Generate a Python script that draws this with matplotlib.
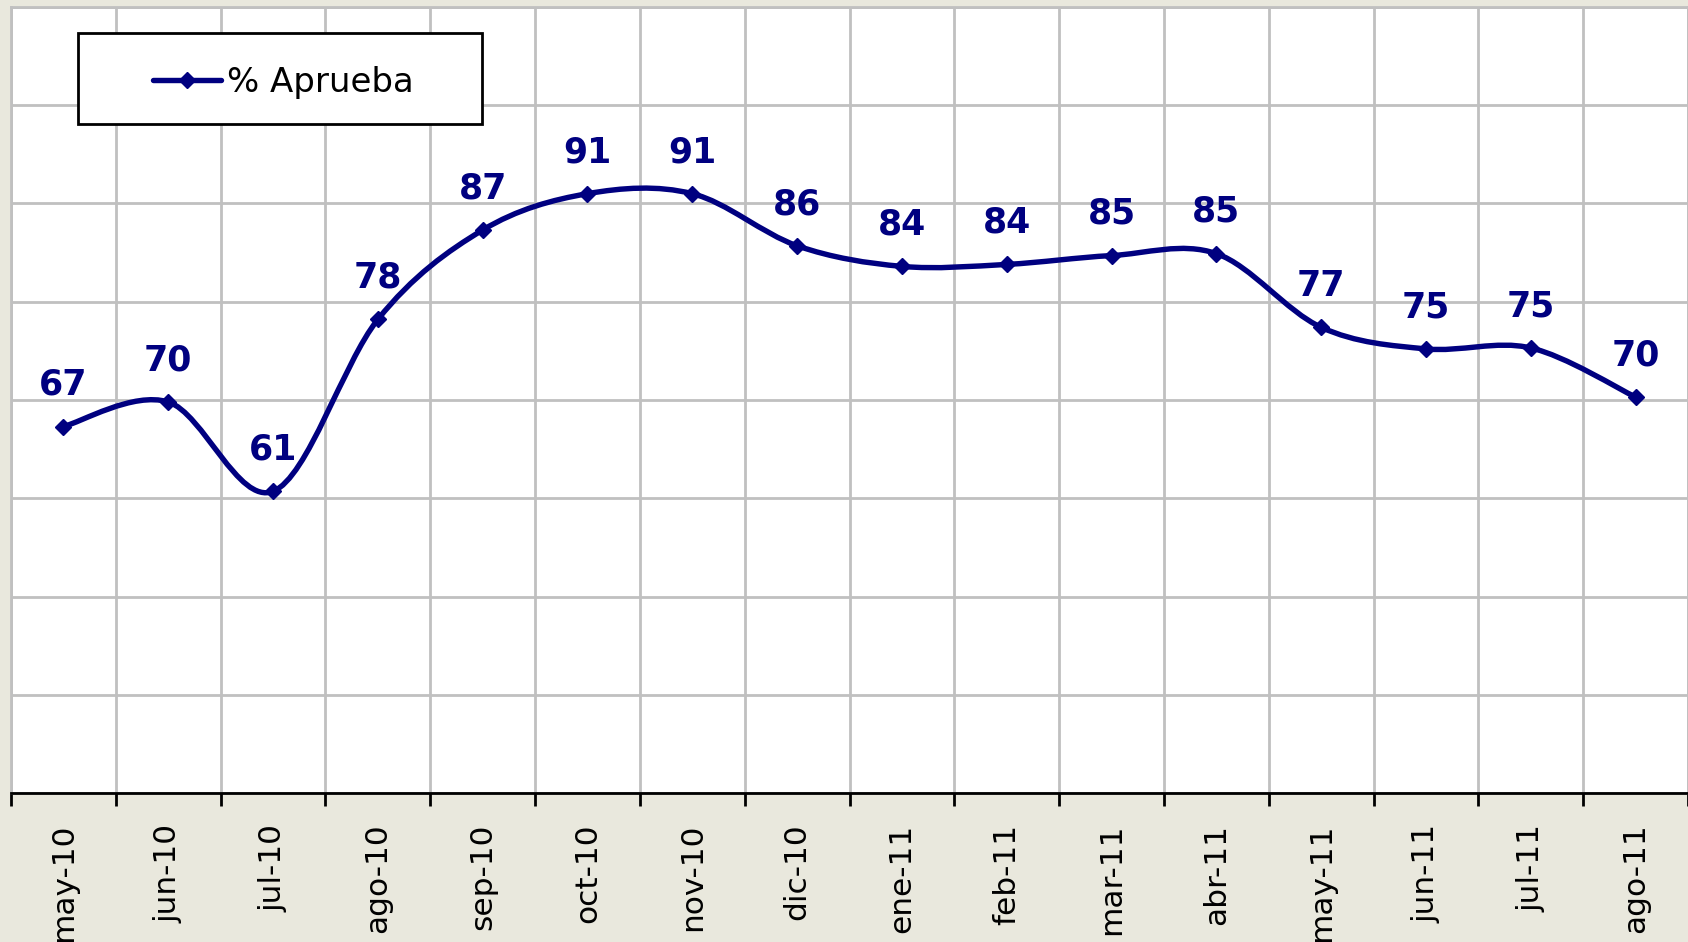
import matplotlib
matplotlib.use("Agg")
import matplotlib.pyplot as plt
from matplotlib.path import Path
from matplotlib.patches import PathPatch, Rectangle
from matplotlib.lines import Line2D

# Data
months = ["may-10", "jun-10", "jul-10", "ago-10", "sep-10", "oct-10", "nov-10", "dic-10",
          "ene-11", "feb-11", "mar-11", "abr-11", "may-11", "jun-11", "jul-11", "ago-11"]
aprueba = [67.3, 69.8, 60.7, 78.2, 87.3, 91.0, 91.0, 85.7,
           83.6, 83.8, 84.7, 84.9, 77.4, 75.2, 75.3, 70.3]

NAVY = "#000080"
BG = "#E9E8DD"
GRID = "#C0C0C0"

fig = plt.figure(figsize=(16.88, 9.42), dpi=100, facecolor=BG)
ax = fig.add_axes([11 / 1688, 149 / 942, 1 - 11 / 1688, 786 / 942])
ax.set_facecolor("white")

x = list(range(len(aprueba)))

# smoothed line (Excel style): cubic Bezier segments through the points
verts = [(x[0], aprueba[0])]
codes = [Path.MOVETO]
n = len(aprueba)
for i in range(n - 1):
    p0 = (x[max(i - 1, 0)], aprueba[max(i - 1, 0)])
    p1 = (x[i], aprueba[i])
    p2 = (x[i + 1], aprueba[i + 1])
    p3 = (x[min(i + 2, n - 1)], aprueba[min(i + 2, n - 1)])
    c1 = (p1[0] + (p2[0] - p0[0]) / 6, p1[1] + (p2[1] - p0[1]) / 6)
    c2 = (p2[0] - (p3[0] - p1[0]) / 6, p2[1] - (p3[1] - p1[1]) / 6)
    verts += [c1, c2, p2]
    codes += [Path.CURVE4] * 3
ax.add_patch(PathPatch(Path(verts, codes), facecolor="none", edgecolor=NAVY,
                       lw=3.9, capstyle="round", joinstyle="round", zorder=3))
ax.plot(x, aprueba, "D", color=NAVY, markersize=8, zorder=4)

for xi, v in zip(x, aprueba):
    ax.annotate(f"{round(v)}", (xi, v), xytext=(0, 30), textcoords="offset points",
                ha="center", va="center", fontsize=25, fontweight="heavy", color=NAVY)

ax.set_xlim(-0.5, len(months) - 0.5)
ax.set_ylim(30, 110)
ax.set_yticks(range(30, 111, 10))
ax.set_xticks(x)
ax.set_xticklabels(months, rotation=90, va="top", ha="center", fontsize=22.5)
ax.set_xticks([i - 0.5 for i in range(len(months) + 1)], minor=True)
ax.tick_params(axis="x", which="major", length=0, pad=22)
ax.tick_params(axis="x", which="minor", length=9, width=2, color="black")
ax.tick_params(axis="y", left=False, labelleft=False)
ax.grid(True, which="minor", axis="x", color=GRID, lw=2)
ax.grid(True, which="major", axis="y", color=GRID, lw=2)
ax.set_axisbelow(True)

for s in ["top", "left", "right"]:
    ax.spines[s].set_color(GRID)
    ax.spines[s].set_linewidth(2)
ax.spines["bottom"].set_color("black")
ax.spines["bottom"].set_linewidth(2)

# legend box
lx, ly, lw_, lh = 78 / 1688, 1 - 124 / 942, 404 / 1688, 91 / 942
fig.patches.append(Rectangle((lx, ly), lw_, lh, transform=fig.transFigure,
                             facecolor="white", edgecolor="black", lw=2, zorder=5))
handle = Line2D([], [], color=NAVY, lw=3.9, marker="D", markersize=8,
                solid_capstyle="round")
leg = fig.legend([handle], ["% Aprueba"], loc="center",
                 bbox_to_anchor=(lx + 0.002, ly - 0.004, lw_, lh), frameon=False,
                 fontsize=24.5, handlelength=2.0, handletextpad=0.2)
leg.set_zorder(6)

fig.savefig("out.png", dpi=100, facecolor=BG)
